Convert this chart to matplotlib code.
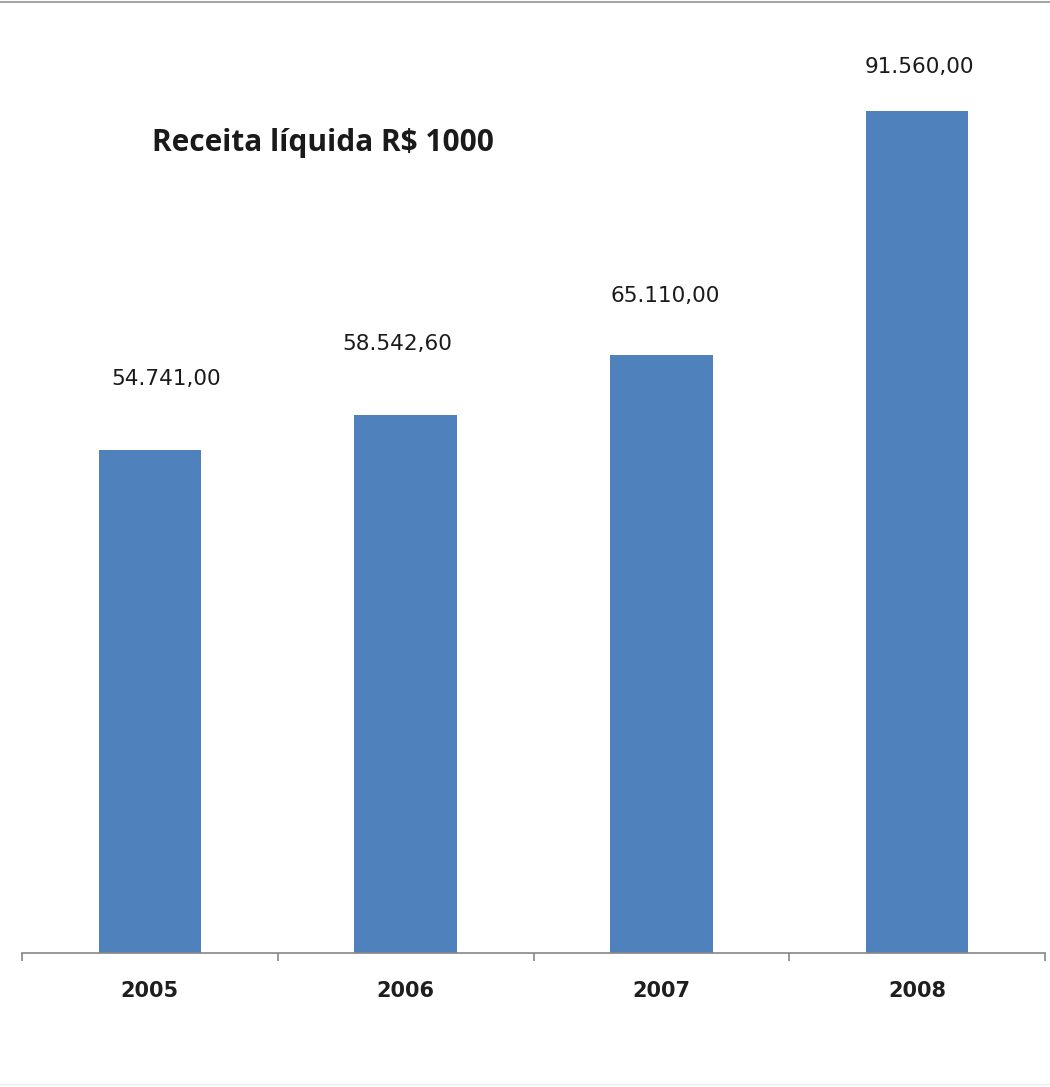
import matplotlib
matplotlib.use("Agg")
import matplotlib.pyplot as plt
from matplotlib.lines import Line2D

categories = ["2005", "2006", "2007", "2008"]
values = [54741.00, 58542.60, 65110.00, 91560.00]
value_labels = ["54.741,00", "58.542,60", "65.110,00", "91.560,00"]
title = "Receita líquida R$ 1000"

# label placement offsets (pixels from bar top centre), as placed in the original
label_dx = [16, -8, 4, 2]
label_dy = [71, 71, 59, 44]

W, H = 1050, 1087
fig = plt.figure(figsize=(W / 100, H / 100), dpi=100)
fig.patch.set_facecolor("white")

ax_left, ax_right = 22 / W, 1045 / W
ax_bottom = 1 - 953 / H
ax_top = 1 - 30 / H
ax = fig.add_axes([ax_left, ax_bottom, ax_right - ax_left, ax_top - ax_bottom])

x = list(range(len(categories)))
ax.bar(x, values, width=0.4, color="#4F81BD", zorder=2)
ax.set_xlim(-0.5, len(categories) - 0.5)
ax.set_ylim(0, (953 - 30) * 108.8)

for s in ["top", "right", "left"]:
    ax.spines[s].set_visible(False)
ax.spines["bottom"].set_color("#868686")
ax.spines["bottom"].set_linewidth(1.2)
ax.set_yticks([])
ax.set_xticks([i - 0.5 for i in range(len(categories) + 1)])
ax.set_xticklabels([])
ax.tick_params(axis="x", length=6, color="#868686", width=1.2, direction="out")
for i, c in enumerate(categories):
    ax.annotate(c, xy=(i, 0), xytext=(0, -38), textcoords="offset pixels",
                ha="center", va="center", fontsize=15, fontweight="bold",
                color="#1e1e1e", family="DejaVu Sans")

for i, (v, lab) in enumerate(zip(values, value_labels)):
    ax.annotate(lab, xy=(i, v), xytext=(label_dx[i], label_dy[i]),
                textcoords="offset pixels",
                ha="center", va="center", fontsize=15.5, color="#1a1a1a",
                family="DejaVu Sans")

fig.text(152 / W, 1 - 143 / H, title, ha="left", va="center", fontsize=21.5,
         fontweight="bold", family="Open Sans", color="#1a1a1a")

# frame lines at top and bottom of the picture
fig.add_artist(Line2D([0, 1], [1 - 2 / H, 1 - 2 / H], color="#a6a6a6", lw=1.5))
fig.add_artist(Line2D([0, 1], [1 - 1084 / H, 1 - 1084 / H], color="#eeeeee", lw=1))

fig.savefig("out.png", dpi=100, facecolor="white")
